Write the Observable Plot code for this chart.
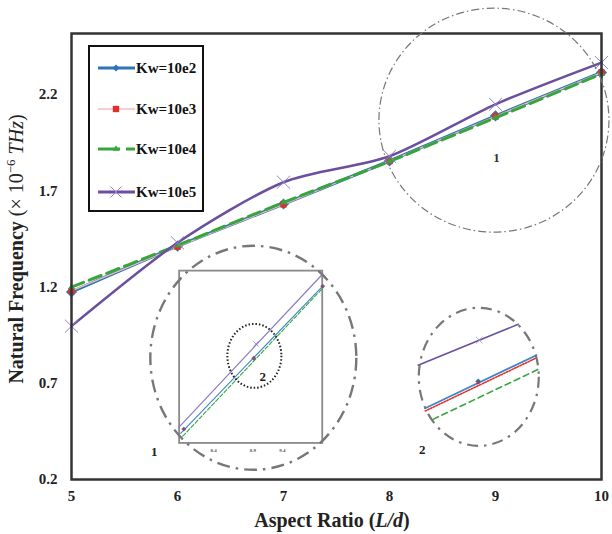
<!DOCTYPE html>
<html><head><meta charset="utf-8">
<script src="https://cdn.jsdelivr.net/npm/d3@7"></script>
<script src="https://cdn.jsdelivr.net/npm/@observablehq/plot@0.6"></script>
<style>
body{margin:0;background:#fff;}
#wrap{position:relative;width:612px;height:534px;overflow:hidden;}
#legend{position:absolute;left:88px;top:45px;width:112px;height:163px;border:2px solid #111;background:#fff;}
</style></head><body><div id="wrap"></div>
<script>
// ---- main data ----
const aspectRatio = [5, 6, 7, 8, 9, 10];
const freqKw1e2 = [1.175, 1.413, 1.632, 1.856, 2.090, 2.315];
const freqKw1e3 = [1.180, 1.410, 1.630, 1.855, 2.088, 2.315];
const freqKw1e4 = [1.200, 1.417, 1.640, 1.853, 2.080, 2.308];
const freqKw1e5 = [0.997, 1.430, 1.745, 1.880, 2.150, 2.367];
const seriesNames = ["Kw=10e2", "Kw=10e3", "Kw=10e4", "Kw=10e5"];
const xTicks = [5, 6, 7, 8, 9, 10];
const yTicks = [0.2, 0.7, 1.2, 1.7, 2.2];

// ---- magnified inset views (values in main-chart units) ----
const inset1Kw1e2 = [[6.03, 0.44], [7.37, 1.205]];
const inset1Kw1e4 = [[6.05, 0.425], [7.37, 1.195]];
const inset1Kw1e5 = [[6.01, 0.47], [7.37, 1.268]];
const inset1Marks = [[6.06, 0.462], [6.72, 0.83], [7.37, 1.205]];
const inset1Cross = [[6.74, 0.905]];
const inset1Box = [{x1: 6.02, x2: 7.37, y1: 0.3875, y2: 1.283}];
const inset1TickText = ["8.4", "8.9", "9.4"];
const inset1TickX = [6.34, 6.71, 6.99];
const inset2Kw1e2 = [[8.337, 0.570], [9.386, 0.846]];
const inset2Kw1e3 = [[8.337, 0.556], [9.386, 0.832]];
const inset2Kw1e4 = [[8.41, 0.5125], [9.405, 0.773]];
const inset2Kw1e5 = [[8.27, 0.794], [9.215, 1.007]];
const inset2Mark = [[8.837, 0.71]];
const inset2Cross = [[8.847, 0.924]];

const colors = ["#2E75B6", "#E0302A", "#37A53C", "#6A4F9E"];
const pt = (arr) => arr.map(([x, y]) => ({x, y}));
const series = (vals) => aspectRatio.map((x, i) => ({x, y: vals[i]}));
const d2 = series(freqKw1e2), d3s = series(freqKw1e3), d4 = series(freqKw1e4), d5 = series(freqKw1e5);
const curve = d3.curveCardinal.tension(0.2);

const plot = Plot.plot({
  width: 612, height: 534,
  marginLeft: 71, marginRight: 11, marginTop: 33, marginBottom: 55,
  style: {fontFamily: "'Liberation Serif','Times New Roman',serif", fontSize: "15px", fontWeight: "bold", color: "#222", background: "#fff", overflow: "visible"},
  x: {domain: [5, 10], ticks: xTicks, tickSize: 0, tickPadding: 11, label: null, tickFormat: d => String(d)},
  y: {domain: [0.2, 2.518], ticks: yTicks, tickSize: 0, tickPadding: 14, label: null, tickFormat: d => d.toFixed(1)},
  marks: [
    // inset 1 frame and lines
    Plot.rect(inset1Box, {x1: "x1", x2: "x2", y1: "y1", y2: "y2", fill: "none", stroke: "#8a8a8a", strokeWidth: 1.8}),
    Plot.line(pt(inset1Kw1e5), {x: "x", y: "y", stroke: "#8E7BC0", strokeWidth: 1.2}),
    Plot.line(pt(inset1Kw1e4), {x: "x", y: "y", stroke: "#37A53C", strokeWidth: 1.1, strokeDasharray: "4,2"}),
    Plot.line(pt(inset1Kw1e2), {x: "x", y: "y", stroke: "#3C86C8", strokeWidth: 1.1}),
    Plot.dot(pt(inset1Marks), {x: "x", y: "y", symbol: "diamond2", r: 2.2, fill: "#2E75B6"}),
    Plot.dot(pt(inset1Marks), {x: "x", y: "y", symbol: "square", r: 1.3, fill: "#E0302A"}),
    Plot.dot(pt(inset1Cross), {x: "x", y: "y", symbol: "times", r: 2.5, stroke: "#8E7BC0", strokeWidth: 0.8}),
    Plot.text(inset1TickText, {x: (d, i) => inset1TickX[i], y: () => 0.35, text: d => d, fontSize: 5, fill: "#555"}),
    Plot.text(["2"], {x: () => 6.805, y: () => 0.736, text: d => d, fontSize: 13, fill: "#222"}),
    Plot.text(["1"], {x: () => 5.78, y: () => 0.346, text: d => d, fontSize: 13, fill: "#222"}),
    // inset 2 lines
    Plot.line(pt(inset2Kw1e5), {x: "x", y: "y", stroke: "#6A4F9E", strokeWidth: 1.5}),
    Plot.line(pt(inset2Kw1e4), {x: "x", y: "y", stroke: "#37A53C", strokeWidth: 1.6, strokeDasharray: "6,4"}),
    Plot.line(pt(inset2Kw1e3), {x: "x", y: "y", stroke: "#E0302A", strokeWidth: 1.6, strokeDasharray: "1.5,1.5"}),
    Plot.line(pt(inset2Kw1e2), {x: "x", y: "y", stroke: "#3C86C8", strokeWidth: 1.8}),
    Plot.dot(pt(inset2Mark), {x: "x", y: "y", symbol: "diamond2", r: 2.6, fill: "#2E75B6"}),
    Plot.dot(pt(inset2Mark), {x: "x", y: "y", symbol: "square", r: 1.5, fill: "#C0303A", dy: 1.5}),
    Plot.dot(pt(inset2Cross), {x: "x", y: "y", symbol: "times", r: 3, stroke: "#9A8CC8", strokeWidth: 0.8}),
    Plot.text(["2"], {x: () => 8.31, y: () => 0.356, text: d => d, fontSize: 13, fill: "#222"}),
    Plot.text(["1"], {x: () => 9.01, y: () => 1.87, text: d => d, fontSize: 13, fill: "#333", fontWeight: "bold"}),
    // main series, in series order
    Plot.line(d2, {x: "x", y: "y", stroke: colors[0], strokeWidth: 3.2, curve}),
    Plot.dot(d2, {x: "x", y: "y", symbol: "diamond2", r: 5, fill: colors[0]}),
    Plot.line(d3s, {x: "x", y: "y", stroke: "#F4BCBC", strokeWidth: 1.3, curve}),
    Plot.dot(d3s, {x: "x", y: "y", symbol: "square", r: 3.6, fill: colors[1]}),
    Plot.line(d4, {x: "x", y: "y", stroke: colors[2], strokeWidth: 3, strokeDasharray: "13,6", curve}),
    Plot.dot(d4, {x: "x", y: "y", symbol: "triangle", r: 2.4, fill: colors[2]}),
    Plot.line(d5, {x: "x", y: "y", stroke: colors[3], strokeWidth: 2.5, curve}),
    Plot.dot(d5, {x: "x", y: "y", symbol: "times", r: 6, stroke: "#9385C4", strokeWidth: 1}),
    Plot.frame({stroke: "#333", strokeWidth: 2.5})
  ]
});

const wrap = document.getElementById("wrap");
wrap.appendChild(plot);

// helpers mapping through the plot's own scales
const sx = plot.scale("x"), sy = plot.scale("y");
const lin = (s) => s.apply ? (v => s.apply(v)) : (v => s.range[0] + (v - s.domain[0]) / (s.domain[1] - s.domain[0]) * (s.range[1] - s.range[0]));
const X = lin(sx), Y = lin(sy);

const svg = d3.select(plot);
// decorative magnifier ellipses: [centre x, centre y, rx px, ry px, style]
const ellipses = [
  {cx: 8.99, cy: 2.065, rx: 115, ry: 112, stroke: "#777", w: 1.2, dash: "8,3,1.5,3"},
  {cx: 6.72, cy: 0.83, rx: 103, ry: 112, stroke: "#777", w: 2.4, dash: "13,6,2.5,6"},
  {cx: 6.73, cy: 0.84, rx: 27, ry: 32, stroke: "#222", w: 2, dash: "1.5,2"},
  {cx: 8.847, cy: 0.731, rx: 60, ry: 69, stroke: "#777", w: 2.2, dash: "11,6,2.5,6"}
];
ellipses.forEach(e => {
  svg.append("ellipse").attr("cx", X(e.cx)).attr("cy", Y(e.cy)).attr("rx", e.rx).attr("ry", e.ry)
    .attr("fill", "none").attr("stroke", e.stroke).attr("stroke-width", e.w).attr("stroke-dasharray", e.dash);
});

// axis titles
const yt = svg.append("text").attr("transform", "translate(23,249) rotate(-90)")
  .attr("text-anchor", "middle").attr("font-size", 20).attr("fill", "#222");
yt.append("tspan").attr("font-weight", "bold").text("Natural Frequency");
yt.append("tspan").attr("font-weight", "normal").text(" (× 10");
yt.append("tspan").attr("font-weight", "normal").attr("font-size", 13).attr("dy", -8).text("−6");
yt.append("tspan").attr("font-weight", "normal").attr("font-style", "italic").attr("dy", 8).text(" THz");
yt.append("tspan").attr("font-weight", "normal").text(")");

const xt = svg.append("text").attr("x", 332).attr("y", 527)
  .attr("text-anchor", "middle").attr("font-size", 20).attr("font-weight", "bold").attr("fill", "#222");
xt.append("tspan").text("Aspect Ratio (");
xt.append("tspan").attr("font-style", "italic").text("L/d");
xt.append("tspan").text(")");

// legend
const leg = document.createElement("div");
leg.id = "legend";
wrap.appendChild(leg);
const ls = d3.select(leg).append("svg").attr("width", 112).attr("height", 163)
  .style("font-family", "'Liberation Serif','Times New Roman',serif").style("font-weight", "bold").style("font-size", "15px");
const legY = [21, 62, 102, 145];
const legStyle = [
  {line: colors[0], w: 3.2, dash: null, sym: "diamond2", r: 3.2, fill: colors[0], stroke: null},
  {line: "#F4BCBC", w: 1.5, dash: null, sym: "square", r: 3.6, fill: colors[1], stroke: null},
  {line: colors[2], w: 3, dash: "22,6", sym: "triangle", r: 2.4, fill: colors[2], stroke: null},
  {line: colors[3], w: 3, dash: null, sym: "times", r: 5, fill: "none", stroke: "#9385C4"}
];
const symMap = {diamond2: d3.symbolDiamond2, square: d3.symbolSquare, triangle: d3.symbolTriangle, times: d3.symbolTimes};
seriesNames.forEach((name, i) => {
  const s = legStyle[i], y = legY[i];
  const l = ls.append("line").attr("x1", 8).attr("x2", 45).attr("y1", y).attr("y2", y)
    .attr("stroke", s.line).attr("stroke-width", s.w);
  if (s.dash) l.attr("stroke-dasharray", s.dash);
  ls.append("path").attr("transform", `translate(26,${y})`)
    .attr("d", d3.symbol(symMap[s.sym], Math.PI * s.r * s.r)())
    .attr("fill", s.fill).attr("stroke", s.stroke || "none").attr("stroke-width", 1);
  ls.append("text").attr("x", 46).attr("y", y + 5).attr("fill", "#111").text(name);
});
</script></body></html>
